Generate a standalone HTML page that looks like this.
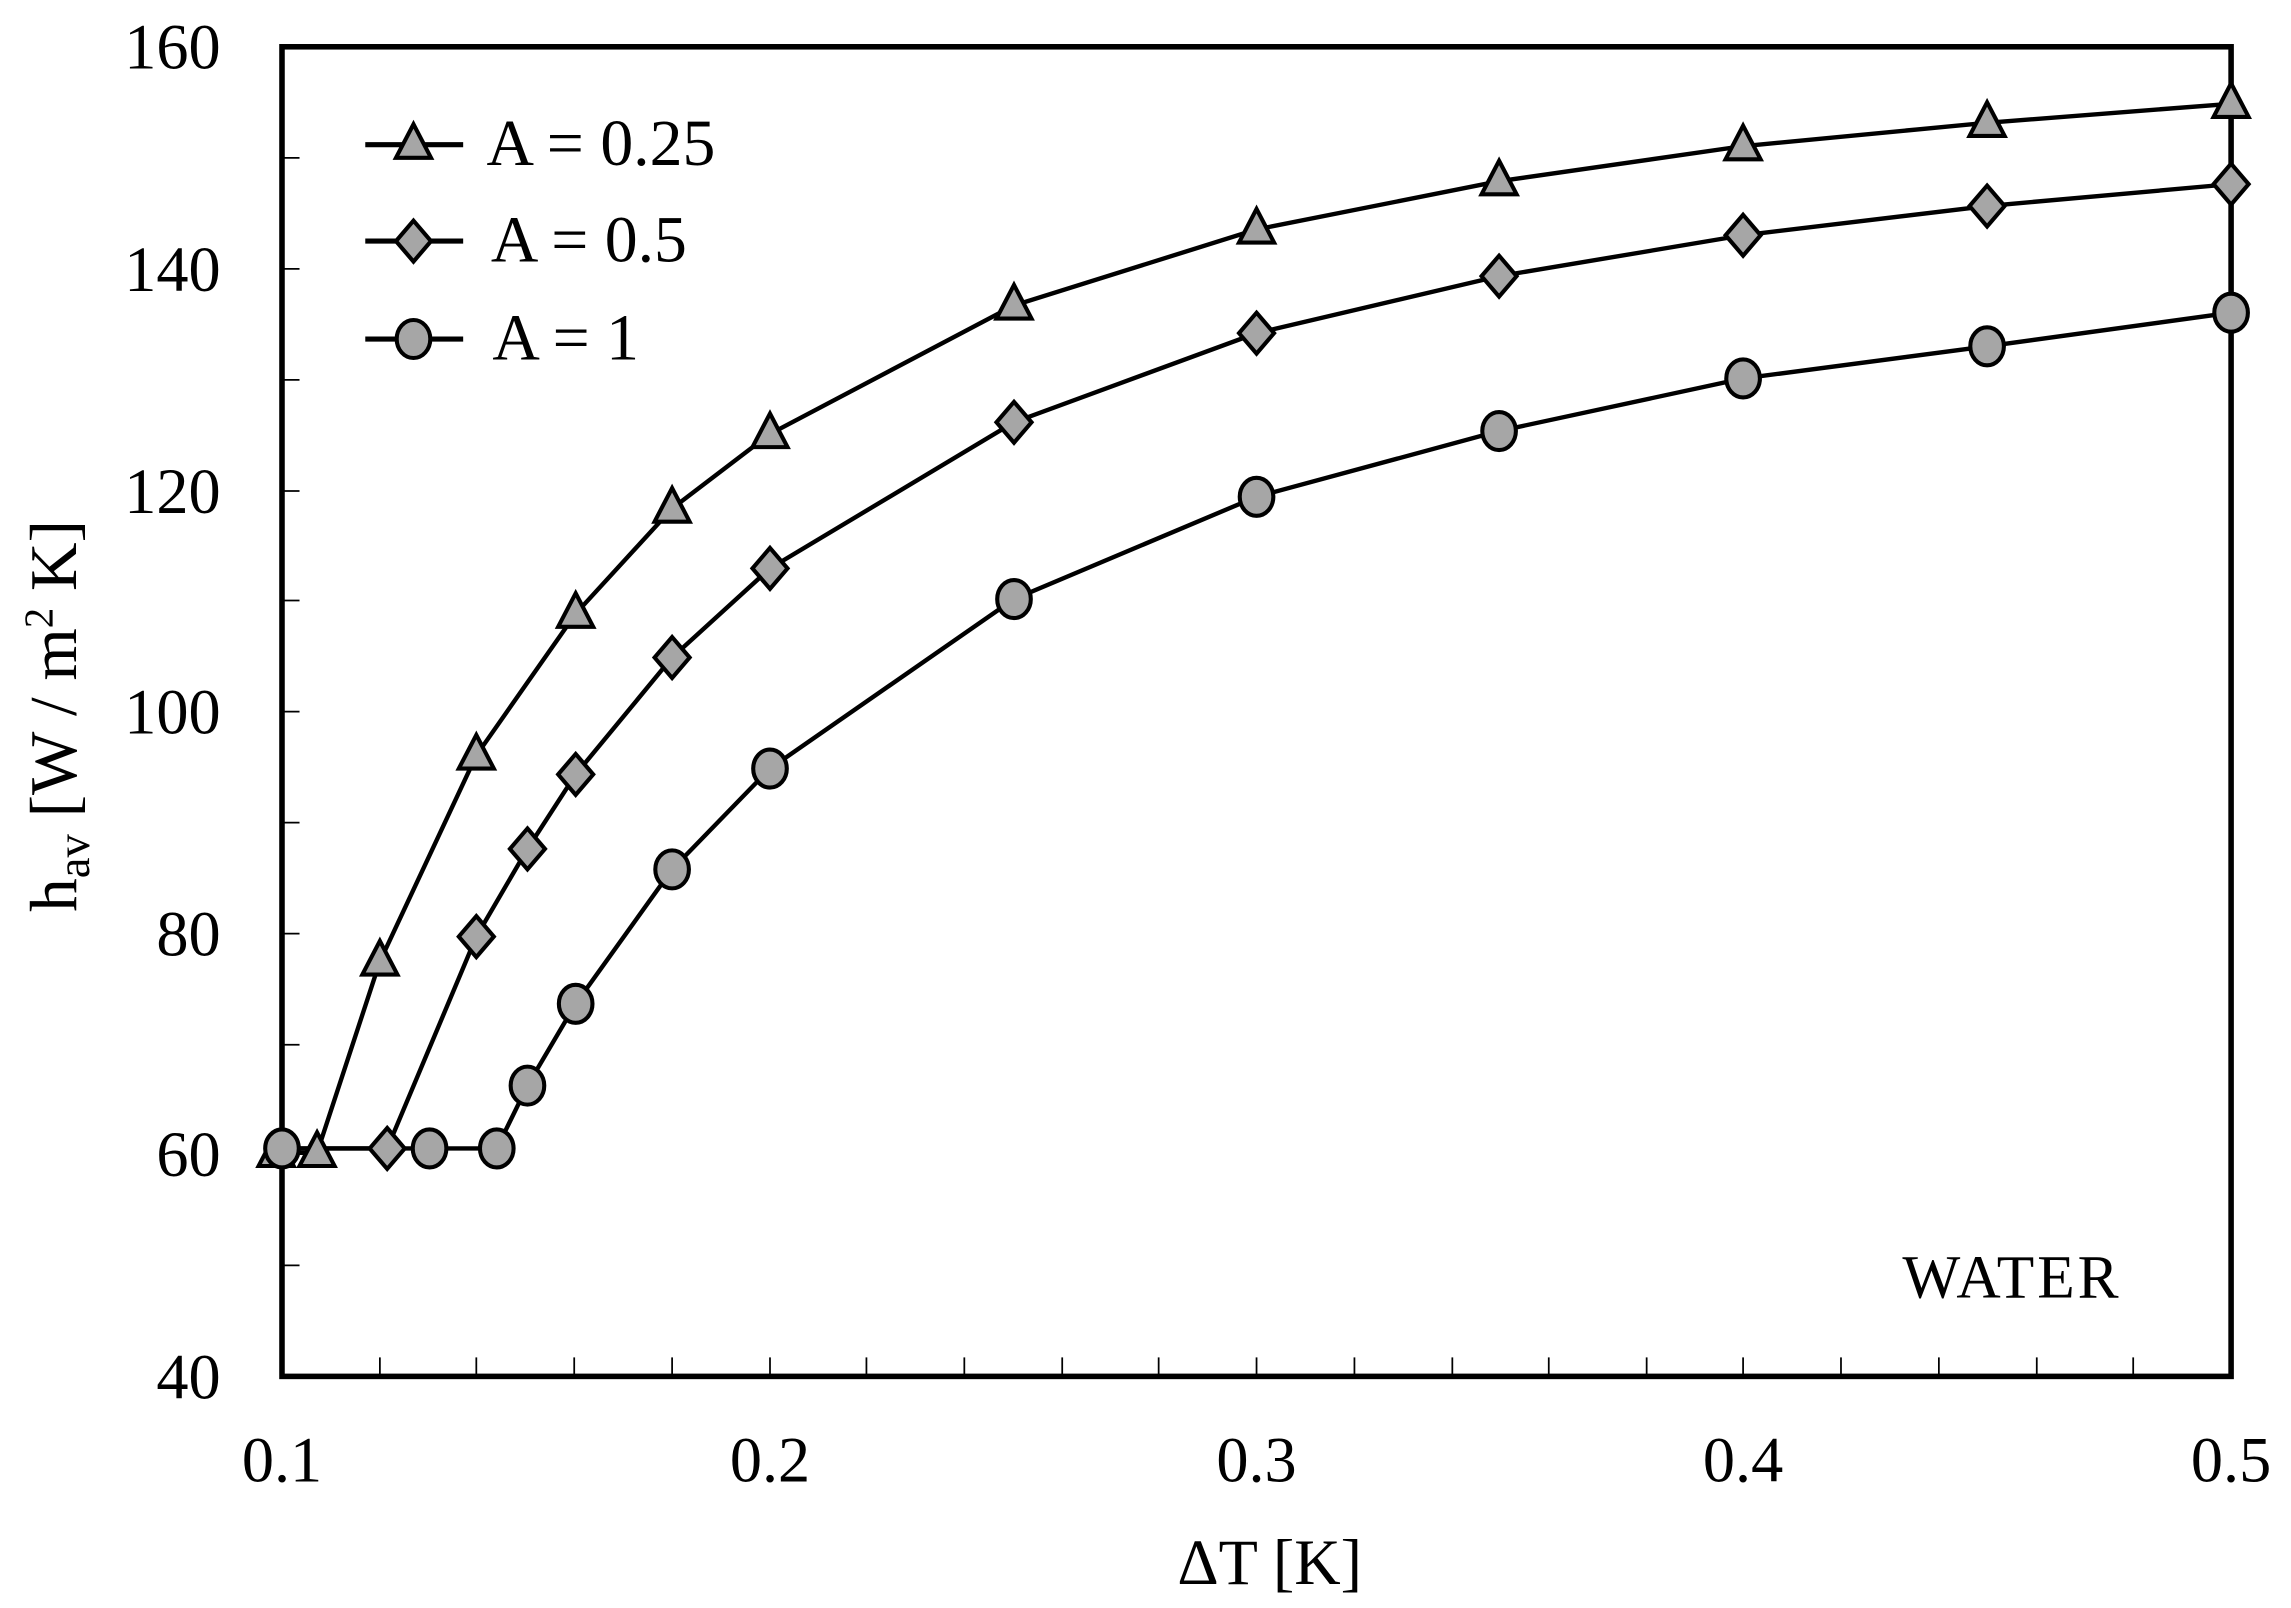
<!DOCTYPE html>
<html><head><style>html,body{margin:0;padding:0;background:#fff}svg{display:block}</style></head>
<body>
<svg width="2291" height="1608" viewBox="0 0 1568 1100.5" xmlns="http://www.w3.org/2000/svg" font-family="Liberation Serif, serif">
<defs>
<g id="tri"><polygon points="0,-14 12,9 -12,9" fill="#a6a6a6" stroke="#000" stroke-width="2.8" stroke-linejoin="miter"/></g>
<g id="dia"><polygon points="0,-14 12,0 0,14 -12,0" fill="#a6a6a6" stroke="#000" stroke-width="2.8"/></g>
<g id="cir"><ellipse cx="0" cy="0" rx="11.5" ry="13" fill="#a6a6a6" stroke="#000" stroke-width="2.8"/></g>
</defs>
<g stroke="#000" stroke-width="1.2">
<line x1="193" y1="108" x2="205" y2="108"/><line x1="193" y1="184" x2="205" y2="184"/>
<line x1="193" y1="260" x2="205" y2="260"/><line x1="193" y1="336" x2="205" y2="336"/>
<line x1="193" y1="411" x2="205" y2="411"/><line x1="193" y1="487" x2="205" y2="487"/>
<line x1="193" y1="563" x2="205" y2="563"/><line x1="193" y1="639" x2="205" y2="639"/>
<line x1="193" y1="715" x2="205" y2="715"/><line x1="193" y1="790" x2="205" y2="790"/>
<line x1="193" y1="866" x2="205" y2="866"/>
<line x1="260" y1="942" x2="260" y2="929"/><line x1="326" y1="942" x2="326" y2="929"/>
<line x1="393" y1="942" x2="393" y2="929"/><line x1="460" y1="942" x2="460" y2="929"/>
<line x1="527" y1="942" x2="527" y2="929"/><line x1="593" y1="942" x2="593" y2="929"/>
<line x1="660" y1="942" x2="660" y2="929"/><line x1="727" y1="942" x2="727" y2="929"/>
<line x1="793" y1="942" x2="793" y2="929"/><line x1="860" y1="942" x2="860" y2="929"/>
<line x1="927" y1="942" x2="927" y2="929"/><line x1="994" y1="942" x2="994" y2="929"/>
<line x1="1060" y1="942" x2="1060" y2="929"/><line x1="1127" y1="942" x2="1127" y2="929"/>
<line x1="1193" y1="942" x2="1193" y2="929"/><line x1="1260" y1="942" x2="1260" y2="929"/>
<line x1="1327" y1="942" x2="1327" y2="929"/><line x1="1394" y1="942" x2="1394" y2="929"/>
<line x1="1460" y1="942" x2="1460" y2="929"/>
</g>
<rect x="193" y="32" width="1334" height="910" fill="none" stroke="#000" stroke-width="3.8"/>
<g font-size="44" text-anchor="end" fill="#000">
<text x="151" y="47">160</text><text x="151" y="199">140</text><text x="151" y="351">120</text>
<text x="151" y="502">100</text><text x="151" y="654">80</text><text x="151" y="805">60</text><text x="151" y="957">40</text>
</g>
<g font-size="44" text-anchor="middle" fill="#000">
<text x="193" y="1014">0.1</text><text x="527" y="1014">0.2</text><text x="860" y="1014">0.3</text>
<text x="1193" y="1014">0.4</text><text x="1527" y="1014">0.5</text>
<text x="869" y="1084">ΔT [K]</text>
</g>
<text transform="translate(52,490) rotate(-90)" font-size="46" text-anchor="middle">h<tspan font-size="32" dy="9">av</tspan><tspan dy="-9"> [W / m</tspan><tspan font-size="28" dy="-16">2</tspan><tspan dy="16"> K]</tspan></text>
<text x="1302" y="888" font-size="42" letter-spacing="2">WATER</text>
<g fill="none" stroke="#000" stroke-width="3">
<polyline points="193,789 217,789 260,658 326,517 394,420 460,348 527,297 694,209 860,157 1026,124 1193,100 1360,84 1527,71"/>
<polyline points="193,786 265,786 326,641 361,581 394,530 460,450 527,389 694,289 860,228 1026,189 1193,161 1360,141 1527,126"/>
<polyline points="193,786 294,786 340,786 361,743 394,687 460,595 527,526 694,410 860,340 1026,295 1193,259 1360,237 1527,214"/>
</g>
<use href="#tri" x="189" y="789"/><use href="#tri" x="217" y="789"/><use href="#tri" x="260" y="658"/><use href="#tri" x="326" y="517"/><use href="#tri" x="394" y="420"/><use href="#tri" x="460" y="348"/><use href="#tri" x="527" y="297"/><use href="#tri" x="694" y="209"/><use href="#tri" x="860" y="157"/><use href="#tri" x="1026" y="124"/><use href="#tri" x="1193" y="100"/><use href="#tri" x="1360" y="84"/><use href="#tri" x="1527" y="71"/>
<use href="#dia" x="265" y="786"/><use href="#dia" x="326" y="641"/><use href="#dia" x="361" y="581"/><use href="#dia" x="394" y="530"/><use href="#dia" x="460" y="450"/><use href="#dia" x="527" y="389"/><use href="#dia" x="694" y="289"/><use href="#dia" x="860" y="228"/><use href="#dia" x="1026" y="189"/><use href="#dia" x="1193" y="161"/><use href="#dia" x="1360" y="141"/><use href="#dia" x="1527" y="126"/>
<use href="#cir" x="193" y="786"/><use href="#cir" x="294" y="786"/><use href="#cir" x="340" y="786"/><use href="#cir" x="361" y="743"/><use href="#cir" x="394" y="687"/><use href="#cir" x="460" y="595"/><use href="#cir" x="527" y="526"/><use href="#cir" x="694" y="410"/><use href="#cir" x="860" y="340"/><use href="#cir" x="1026" y="295"/><use href="#cir" x="1193" y="259"/><use href="#cir" x="1360" y="237"/><use href="#cir" x="1527" y="214"/>
<g stroke="#000" stroke-width="3.5">
<line x1="250" y1="99" x2="317" y2="99"/><line x1="250" y1="165" x2="317" y2="165"/><line x1="250" y1="232" x2="317" y2="232"/>
</g>
<use href="#tri" x="283" y="99"/><use href="#dia" x="283" y="165"/><use href="#cir" x="283" y="232"/>
<g font-size="45" fill="#000">
<text x="333" y="113">A = 0.25</text><text x="336" y="179">A = 0.5</text><text x="337" y="246">A = 1</text>
</g>
</svg>
</body></html>
